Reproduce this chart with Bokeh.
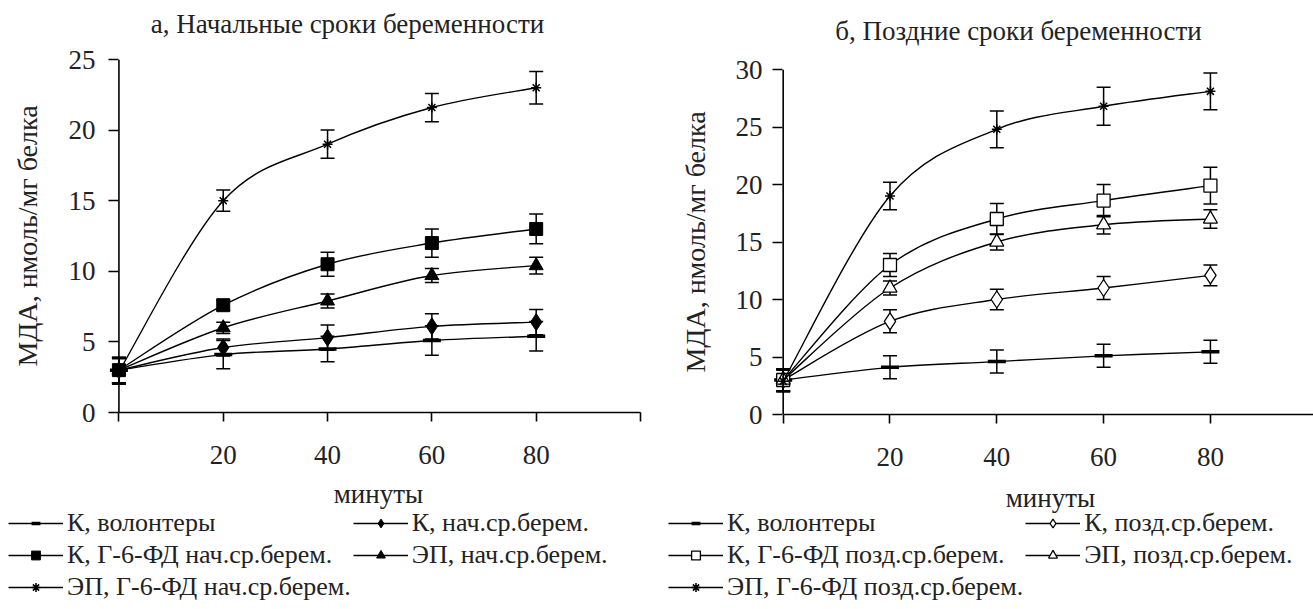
import numpy as np
from bokeh.plotting import figure
from bokeh.models import (Range1d, FixedTicker, Whisker, TeeHead, ColumnDataSource,
                          Legend, LegendItem, Span, Label)
from bokeh.layouts import row, column
from bokeh.embed import file_html
from bokeh.resources import INLINE

minutes = [0, 20, 40, 60, 80]
x_ticks = [0, 20, 40, 60, 80, 100]
x_title = "минуты"
y_title = "МДА, нмоль/мг белка"

# ---- panel а: early pregnancy ----
a_title = "а, Начальные сроки беременности"
a_labels = ["К, волонтеры", "К, нач.ср.берем.", "К, Г-6-ФД нач.ср.берем.",
            "ЭП, нач.ср.берем.", "ЭП, Г-6-ФД нач.ср.берем."]
a_vol = [3.0, 4.1, 4.5, 5.1, 5.4]
a_vol_err = [0.9, 1.0, 0.9, 1.05, 1.05]
a_k = [3.0, 4.6, 5.3, 6.1, 6.4]
a_k_err = [0.9, 0.6, 0.9, 0.9, 0.9]
a_kg = [3.0, 7.6, 10.5, 12.0, 13.0]
a_kg_err = [0.9, 0.35, 0.85, 1.0, 1.05]
a_ep = [3.0, 6.0, 7.9, 9.7, 10.4]
a_ep_err = [0.9, 0.4, 0.5, 0.5, 0.6]
a_epg = [2.9, 15.0, 19.0, 21.6, 23.0]
a_epg_err = [0.9, 0.75, 1.0, 1.0, 1.15]
a_yticks = [0, 5, 10, 15, 20, 25]

# ---- panel б: late pregnancy ----
b_title = "б, Поздние сроки беременности"
b_labels = ["К, волонтеры", "К, позд.ср.берем.", "К, Г-6-ФД позд.ср.берем.",
            "ЭП, позд.ср.берем.", "ЭП, Г-6-ФД позд.ср.берем."]
b_vol = [3.0, 4.1, 4.6, 5.1, 5.45]
b_vol_err = [0.95, 1.0, 1.0, 1.0, 1.0]
b_k = [3.0, 8.1, 10.0, 11.0, 12.1]
b_k_err = [0.95, 1.0, 0.9, 1.0, 0.9]
b_kg = [3.0, 13.0, 17.0, 18.6, 19.9]
b_kg_err = [0.95, 1.0, 1.35, 1.4, 1.6]
b_ep = [3.0, 11.0, 15.0, 16.5, 17.0]
b_ep_err = [0.95, 0.6, 0.7, 0.8, 0.8]
b_epg = [2.9, 19.0, 24.8, 26.8, 28.1]
b_epg_err = [0.95, 1.2, 1.6, 1.65, 1.6]
b_yticks = [0, 5, 10, 15, 20, 25, 30]

SERIF = "Liberation Serif"
INK = "#222222"


def smooth_segments(xs, ys):
    """Bezier control points (Excel-like smoothed line) computed from data."""
    xs = np.asarray(xs, float)
    ys = np.asarray(ys, float)
    n = len(xs)
    px = np.concatenate([[xs[0]], xs, [xs[-1]]])
    py = np.concatenate([[ys[0]], ys, [ys[-1]]])
    d = dict(x0=[], y0=[], x1=[], y1=[], cx0=[], cy0=[], cx1=[], cy1=[])
    for i in range(n - 1):
        p0x, p0y = px[i], py[i]
        p1x, p1y = px[i + 1], py[i + 1]
        p2x, p2y = px[i + 2], py[i + 2]
        p3x, p3y = px[i + 3], py[i + 3]
        d["x0"].append(p1x); d["y0"].append(p1y)
        d["x1"].append(p2x); d["y1"].append(p2y)
        d["cx0"].append(p1x + (p2x - p0x) / 6.0); d["cy0"].append(p1y + (p2y - p0y) / 6.0)
        d["cx1"].append(p2x - (p3x - p1x) / 6.0); d["cy1"].append(p2y - (p3y - p1y) / 6.0)
    return d


def blank(width, height):
    f = figure(width=width, height=height, output_backend="svg", toolbar_location=None,
               x_range=Range1d(0, width), y_range=Range1d(0, height),
               x_axis_location=None, y_axis_location=None, title=None,
               min_border_left=0, min_border_right=0, min_border_top=0, min_border_bottom=0)
    f.grid.visible = False
    f.outline_line_color = None
    return f


def make_title(text, width, height, cx, middle_from_top):
    f = blank(width, height)
    f.add_layout(Label(x=cx, y=height - middle_from_top, text=text, text_align="center",
                       text_baseline="middle", text_font=SERIF,
                       text_font_size="27px", text_color=INK))
    return f


def make_panel(series, errs, markers, yticks, width, height, mb_left, mb_right,
               mb_top, mb_bottom, xend, ylab_standoff, ytick_standoff):
    p = figure(width=width, height=height, output_backend="svg", toolbar_location=None,
               x_range=Range1d(-2, xend), y_range=Range1d(0, yticks[-1]), title=None,
               min_border_left=mb_left, min_border_right=mb_right,
               min_border_top=mb_top, min_border_bottom=mb_bottom)
    p.grid.visible = False
    p.outline_line_color = None
    p.background_fill_color = "white"
    p.border_fill_color = "white"

    # x axis (its title is written just below, in the legend strip)
    xa = p.xaxis[0]
    xa.ticker = FixedTicker(ticks=x_ticks)
    xa.major_label_overrides = {0: "", 100: ""}
    xa.bounds = (0, 100)
    xa.axis_line_color = "black"
    xa.axis_line_width = 1.6
    xa.major_tick_out = 9
    xa.major_tick_in = 0
    xa.major_label_standoff = 24

    # y axis: its line is drawn at x = 0 with a span, ticks reach in to it
    ya = p.yaxis[0]
    ya.ticker = FixedTicker(ticks=yticks)
    ya.axis_line_color = None
    ya.major_tick_out = 0
    ya.major_tick_in = 10
    ya.major_label_standoff = ytick_standoff
    ya.axis_label = y_title
    ya.axis_label_text_font_size = "28px"
    ya.axis_label_standoff = ylab_standoff
    p.add_layout(Span(location=0, dimension="height", line_color="black", line_width=1.6))

    for ax in (xa, ya):
        ax.major_tick_line_color = "black"
        ax.major_tick_line_width = 1.6
        ax.minor_tick_line_color = None
        ax.major_label_text_font = SERIF
        ax.major_label_text_font_size = "27px"
        ax.major_label_text_color = INK
        ax.axis_label_text_font = SERIF
        ax.axis_label_text_font_style = "normal"
        ax.axis_label_text_color = INK

    for ys, es, (mk, msize, mfill, mlw) in zip(series, errs, markers):
        seg = ColumnDataSource(smooth_segments(minutes, ys))
        p.bezier("x0", "y0", "x1", "y1", "cx0", "cy0", "cx1", "cy1", source=seg,
                 line_color="black", line_width=1.4)
        src = ColumnDataSource(dict(x=minutes, y=ys,
                                    up=[v + e for v, e in zip(ys, es)],
                                    lo=[v - e for v, e in zip(ys, es)]))
        w = Whisker(base="x", upper="up", lower="lo", source=src, dimension="height",
                    line_color="black", line_width=1.5,
                    upper_head=TeeHead(size=14, line_color="black", line_width=1.5),
                    lower_head=TeeHead(size=14, line_color="black", line_width=1.5))
        p.add_layout(w)
        p.scatter("x", "y", source=src, marker=mk, size=msize,
                  fill_color=mfill, line_color="black", line_width=mlw)
    return p


def make_legend(labels, markers, width, height, loc, label_width, xlab_cx, xlab_top):
    """Strip below a panel: the x axis title and the legend (sample renderers are
    placed outside the visible range so only their legend glyphs show)."""
    f = blank(width, height)
    f.add_layout(Label(x=xlab_cx, y=height - xlab_top, text=x_title, text_align="center",
                       text_baseline="middle", text_font=SERIF, text_font_size="27px",
                       text_color=INK))
    items = []
    for lab, (mk, msize, mfill, mlw) in zip(labels, markers):
        off = ColumnDataSource(dict(x=[-50, -40], y=[-50, -50]))
        lr = f.line("x", "y", source=off, line_color="black", line_width=1.4)
        mr = f.scatter("x", "y", source=off, marker=mk, size=msize,
                       fill_color=mfill, line_color="black", line_width=mlw)
        items.append(LegendItem(label=lab, renderers=[lr, mr]))
    leg = Legend(items=items, location=loc, orientation="horizontal", ncols=2,
                 glyph_width=55, glyph_height=22, label_height=22, spacing=2,
                 label_width=label_width,
                 padding=0, margin=0, border_line_color=None, background_fill_alpha=0,
                 label_text_font=SERIF, label_text_font_size="26px",
                 label_text_color=INK, label_standoff=4)
    f.add_layout(leg)
    return f


a_markers = [("dash", 18, "black", 3.5), ("diamond", 17, "black", 1),
             ("square", 13, "black", 1), ("triangle", 14, "black", 1),
             ("asterisk", 10, None, 1.5)]
b_markers = [("dash", 18, "black", 3.5), ("diamond", 17, "white", 1.3),
             ("square", 13, "white", 1.3), ("triangle", 14, "white", 1.3),
             ("asterisk", 10, None, 1.5)]

# left column (x 0..660): title 0..43, plot 43..478, strip 478..609
ta = make_title(a_title, 660, 43, 347, 23)
pa = make_panel([a_vol, a_k, a_kg, a_ep, a_epg],
                [a_vol_err, a_k_err, a_kg_err, a_ep_err, a_epg_err], a_markers, a_yticks,
                width=660, height=435, mb_left=108, mb_right=20, mb_top=16,
                mb_bottom=66, xend=100, ylab_standoff=23, ytick_standoff=13)
la = make_legend(a_labels, a_markers, 660, 131, (8, 7), 272, 378, 15)

# right column (x 660..1313): title 0..53, plot 53..480, strip 480..609
tb = make_title(b_title, 653, 53, 358, 30)
pb = make_panel([b_vol, b_k, b_kg, b_ep, b_epg],
                [b_vol_err, b_k_err, b_kg_err, b_ep_err, b_epg_err], b_markers, b_yticks,
                width=653, height=427, mb_left=112, mb_right=0, mb_top=16,
                mb_bottom=66, xend=99.3, ylab_standoff=22, ytick_standoff=10)
lb = make_legend(b_labels, b_markers, 653, 129, (8, 7), 284, 390, 17)

left = column(row(ta), row(pa), row(la), spacing=0)
right = column(row(tb), row(pb), row(lb), spacing=0)
layout = row(left, right, spacing=0)
open("out.html", "w").write(file_html(layout, INLINE))
